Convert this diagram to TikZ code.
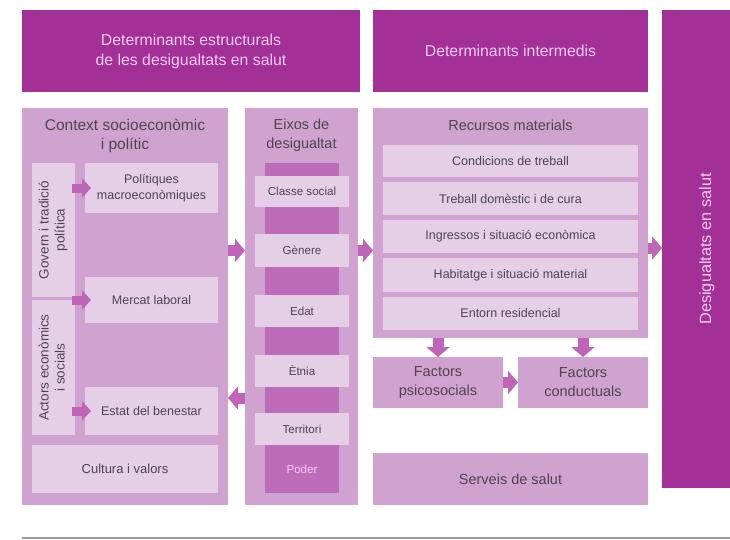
\documentclass[tikz,border=0pt]{standalone}
\usepackage{fontspec}
\setmainfont{Liberation Sans}
\usetikzlibrary{arrows.meta,positioning}
\definecolor{hdrpurple}{RGB}{162,48,150}
\definecolor{panellilac}{RGB}{208,162,208}
\definecolor{itemlilac}{RGB}{229,207,231}
\definecolor{colpurple}{RGB}{190,108,186}
\definecolor{arrowpurple}{RGB}{192,100,183}
\definecolor{hdrtext}{RGB}{244,204,240}
\definecolor{bodytext}{RGB}{78,68,80}
\newcommand{\hdfont}{\fontsize{15.8}{20}\selectfont}
\newcommand{\ttlfont}{\fontsize{14.5}{19}\selectfont}
\newcommand{\itfont}{\fontsize{12.5}{16}\selectfont}
\newcommand{\vtext}[1]{\rotatebox{90}{\begin{tabular}{@{}c@{}}#1\end{tabular}}}
\tikzset{
  hdr/.style={fill=hdrpurple, text=hdrtext, font=\hdfont, align=center, inner sep=0pt, outer sep=0pt},
  panel/.style={fill=panellilac, inner sep=0pt, outer sep=0pt},
  item/.style={fill=itemlilac, text=bodytext, font=\itfont, align=center, inner sep=0pt, outer sep=0pt},
  ttl/.style={text=bodytext, font=\ttlfont, align=center, inner sep=0pt},
  blk/.style={draw=arrowpurple, line width=11pt, -{Triangle[length=10pt,width=23pt]}},
  sblk/.style={draw=arrowpurple, line width=9pt, -{Triangle[length=9pt,width=19pt]},
    shorten <=-3pt, shorten >=-6pt}
}

\begin{document}
\begin{tikzpicture}[x=1pt,y=-1pt]
        \useasboundingbox (0,0) rectangle (730,540);
        \clip (0,0) rectangle (730,540);
        \node [hdr, minimum width=338pt, minimum height=82pt] (estr) at (191,51)
              {Determinants estructurals\\de les desigualtats en salut};
        \node [hdr, minimum width=275pt, minimum height=82pt] (inter) at (510.5,51)
              {Determinants intermedis};
        \node [hdr, minimum width=90pt, minimum height=478pt, font=\fontsize{16.3}{20}\selectfont] (out) at (707,249)
              {\rotatebox{90}{Desigualtats en salut}};

        \node [panel, minimum width=206pt, minimum height=397pt] (lp) at (125,306.5) {};
        \node [ttl, font=\fontsize{15.5}{19}\selectfont] (lpt) at (125,136) {Context socioeconòmic\\i polític};
        \node [item, minimum width=43pt, minimum height=134pt, font=\fontsize{13.5}{16}\selectfont] (gov) at (53.5,230)
              {\vtext{Govern i tradició\\política}};
        \node [item, minimum width=43pt, minimum height=135pt, font=\fontsize{13.5}{16}\selectfont] (act) at (53.5,367.5)
              {\vtext{Actors econòmics\\i socials}};
        \node [item, minimum width=133pt, minimum height=50pt] (pol) at (151.5,188)
              {Polítiques\\macroeconòmiques};
        \node [item, minimum width=133pt, minimum height=46pt] (mer) at (151.5,300) {Mercat laboral};
        \node [item, minimum width=133pt, minimum height=48pt] (est) at (151.5,411) {Estat del benestar};
        \node [item, minimum width=186pt, minimum height=48pt, font=\fontsize{13}{16}\selectfont] (cul) at (125,469)
              {Cultura i valors};

        \node [panel, minimum width=113pt, minimum height=397pt] (mp) at (301.5,306.5) {};
        \node [ttl] (mpt) at (301.5,135) {Eixos de\\desigualtat};
        \node [fill=colpurple, minimum width=74pt, minimum height=282pt, inner sep=0pt] (col) at (302,304) {};
        \node [item, minimum width=94pt, minimum height=31pt, font=\fontsize{11.6}{14}\selectfont] (cls) at (302,191.5) {Classe social};
        \node [item, minimum width=94pt, minimum height=33pt, font=\fontsize{11.6}{14}\selectfont] (gen) at (302,250.5) {Gènere};
        \node [item, minimum width=94pt, minimum height=32pt, font=\fontsize{11.6}{14}\selectfont] (eda) at (302,311) {Edat};
        \node [item, minimum width=94pt, minimum height=32pt, font=\fontsize{11.6}{14}\selectfont] (etn) at (302,371) {Ètnia};
        \node [item, minimum width=94pt, minimum height=32pt, font=\fontsize{11.6}{14}\selectfont] (ter) at (302,429) {Territori};
        \node [item, fill=colpurple, text=hdrtext, minimum width=74pt, minimum height=48pt, font=\fontsize{11.6}{14}\selectfont] (pod) at (302,469) {Poder};

        \node [panel, minimum width=275pt, minimum height=230pt] (rp) at (510.5,223) {};
        \node [ttl] (rpt) at (510.5,125) {Recursos materials};
        \node [item, minimum width=255pt, minimum height=32pt] (cond) at (510.5,161) {Condicions de treball};
        \node [item, minimum width=255pt, minimum height=33pt] (dom) at (510.5,198.5) {Treball domèstic i de cura};
        \node [item, minimum width=255pt, minimum height=33pt] (ing) at (510.5,236.5) {Ingressos i situació econòmica};
        \node [item, minimum width=255pt, minimum height=34pt] (hab) at (510.5,275) {Habitatge i situació material};
        \node [item, minimum width=255pt, minimum height=33pt] (ent) at (510.5,313.5) {Entorn residencial};

        \node [panel, ttl, minimum width=130pt, minimum height=51pt] (psi) at (438,382.5) {Factors\\psicosocials};
        \node [panel, ttl, minimum width=130pt, minimum height=51pt] (cdt) at (583,382.5) {Factors\\conductuals};
        \node [panel, ttl, minimum width=275pt, minimum height=52pt] (srv) at (510.5,479) {Serveis de salut};

        \draw [blk] (lp.east |- gen) -- (mp.west |- gen);
        \draw [blk] (mp.east |- gen) -- (rp.west |- gen);
        \draw [blk] (rp.east |- 0,248) -- (out.west |- 0,248);
        \draw [blk] (mp.west |- 0,398) -- (lp.east |- 0,398);
        \draw [sblk] (gov.east |- pol) -- (pol.west);
        \draw [sblk] (gov.east |- mer) -- (mer.west);
        \draw [sblk] (act.east |- est) -- (est.west);
        \draw [blk] (rp.south -| psi) -- (psi.north);
        \draw [blk] (rp.south -| cdt) -- (cdt.north);
        \draw [blk] (psi.east) -- (cdt.west);

        \draw [gray!80, line width=1.2pt] (lp.west |- 0,538) -- (730,538);
\end{tikzpicture}
\end{document}
